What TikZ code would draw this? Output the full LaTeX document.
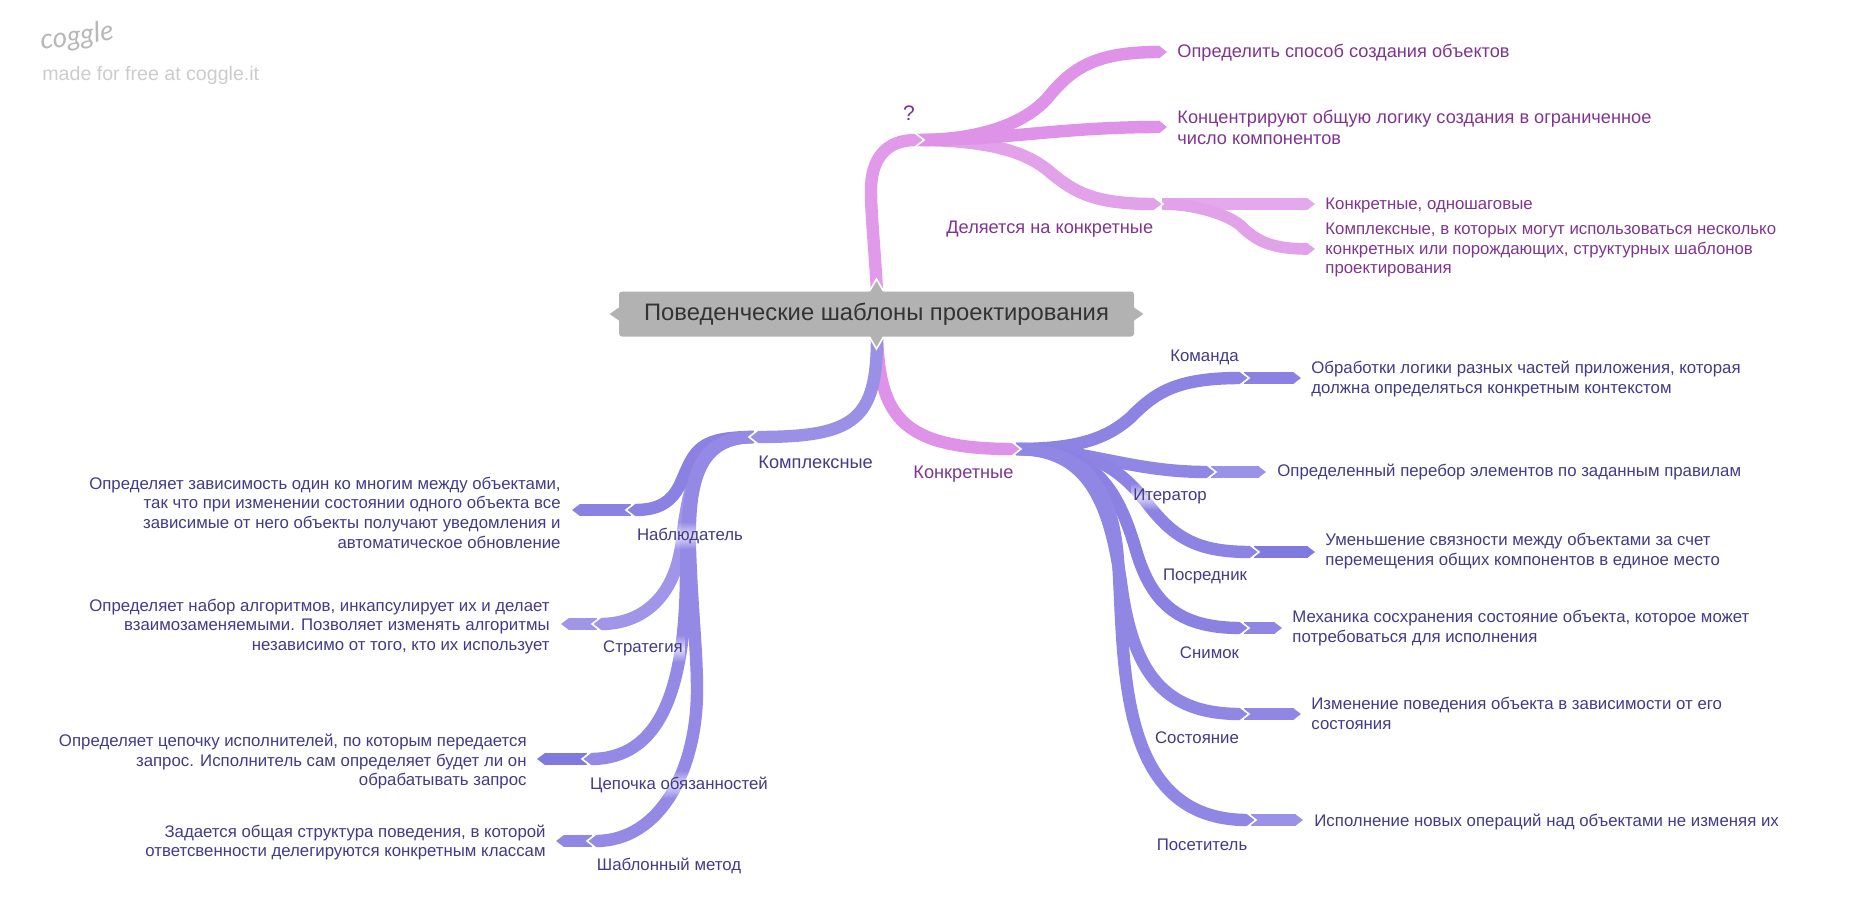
\documentclass[tikz,border=0pt]{standalone}
\usepackage{fontspec}
\setmainfont{Liberation Sans}
\newfontfamily\logofont{Lato}
\usetikzlibrary{arrows.meta,fadings}
\definecolor{pkA}{HTML}{E09AE9}
\definecolor{pkB}{HTML}{DE92E8}
\definecolor{pkC}{HTML}{E1A2EA}
\definecolor{pkD}{HTML}{E4A9EC}
\definecolor{blA}{HTML}{9A90E5}
\definecolor{blB}{HTML}{8A81E2}
\definecolor{blC}{HTML}{8F87E3}
\definecolor{blD}{HTML}{9A92E6}
\definecolor{blE}{HTML}{807ADF}
\definecolor{blF}{HTML}{8C83E3}
\definecolor{blG}{HTML}{9489E4}
\definecolor{blH}{HTML}{A095E8}
\definecolor{txP}{HTML}{7F3590}
\definecolor{txB}{HTML}{433A88}
\definecolor{rootc}{HTML}{B2B2B2}
\tikzfading[name=halo, top color=transparent!100, bottom color=transparent!100, middle color=transparent!30]
\newcommand\fsz[2]{\fontsize{#1pt}{#2pt}\selectfont}
\newcommand\chevR[1]{\draw[chevron] ([shift={(-8,-7)}]#1) -- ([shift={(1,0)}]#1) -- ([shift={(-8,7)}]#1);}
\newcommand\chevL[1]{\draw[chevron] ([shift={(8,-7)}]#1) -- ([shift={(-1,0)}]#1) -- ([shift={(8,7)}]#1);}
\tikzset{
  x=0.5pt,y=-0.5pt,
  br/.style={line width=6.2pt,-{Triangle[length=4pt,width=6.2pt]}},
  brs/.style={line width=5.8pt,-{Triangle[length=4pt,width=5.8pt]}},
  chevron/.style={draw=white,line width=0.8pt,line join=miter},
  pbig/.style={text=txP,font=\fsz{9.1}{10.6},align=left,anchor=west,inner sep=0pt,yshift=-0.75pt},
  psmall/.style={text=txP,font=\fsz{8.4}{9.75},align=left,anchor=west,inner sep=0pt,yshift=-1pt},
  bdesc/.style={text=txB,font=\fsz{8.4}{10},align=left,anchor=west,inner sep=0pt,yshift=-0.75pt},
  bdescr/.style={text=txB,font=\fsz{8.4}{9.85},align=right,anchor=east,inner sep=0pt,yshift=-0.75pt},
  lab/.style={text=txB,font=\fsz{8.4}{10},anchor=center,inner xsep=1pt,inner ysep=3pt,yshift=-1.25pt},
  haloed/.style={fill=white,path fading=halo},
}
\begin{document}
\begin{tikzpicture}
\useasboundingbox (0,0) rectangle (1852,907);
% coordinates
\coordinate (q) at (923,140);
\coordinate (q1) at (1167,52);
\coordinate (q2) at (1167,127);
\coordinate (q3) at (1162,204);
\coordinate (q31) at (1315,204);
\coordinate (q32) at (1315,249);
\coordinate (kon) at (1020,449);
\coordinate (kom) at (750,437);
\coordinate (c1) at (1248,378);
\coordinate (c1e) at (1301,378);
\coordinate (c2) at (1215,472);
\coordinate (c2e) at (1266,472);
\coordinate (c3) at (1258,552);
\coordinate (c3e) at (1315,552);
\coordinate (c4) at (1248,628);
\coordinate (c4e) at (1282,628);
\coordinate (c5) at (1248,714);
\coordinate (c5e) at (1301,714);
\coordinate (c6) at (1255,820);
\coordinate (c6e) at (1303,820);
\coordinate (k1) at (627,510);
\coordinate (k1e) at (572,510);
\coordinate (k2) at (593,624);
\coordinate (k2e) at (561,624);
\coordinate (k3) at (583,759);
\coordinate (k3e) at (537,759);
\coordinate (k4) at (588,841);
\coordinate (k4e) at (556,841);
\node[minimum width=257.5pt,minimum height=22.5pt,inner sep=0pt] (root) at (877,314) {};
% pink top
\draw[brs,pkD] (q3) -- (q31);
\draw[brs,pkC] (q3) .. controls +(30,0) and (1225,213) .. (1240,225) .. controls (1255,240) and (1270,249) .. (q32);
\draw[br,pkC] ([xshift=-3pt]q) .. controls +(80,0) and (1030,155) .. (1050,172) .. controls (1075,193) and (1095,204) .. (q3);
\draw[br,pkB] ([xshift=-3pt]q) .. controls +(90,0) and (1060,127) .. (q2);
\draw[br,pkB] ([xshift=-3pt]q) .. controls +(70,0) and (1030,120) .. (1050,95) .. controls (1075,65) and (1100,52) .. (q1);
\draw[br,pkA] (root.north) .. controls (874,240) and (871,215) .. (871,190) .. controls (871,160) and (885,140) .. (q);
\chevR{q}\chevR{q3}
% right side
\draw[brs,blB] ([xshift=-2pt]c1) -- (c1e);
\draw[brs,blD] ([xshift=-2pt]c2) -- (c2e);
\draw[brs,blE] ([xshift=-2pt]c3) -- (c3e);
\draw[brs,blC] ([xshift=-2pt]c4) -- (c4e);
\draw[brs,blC] ([xshift=-2pt]c5) -- (c5e);
\draw[brs,blD] ([xshift=-2pt]c6) -- (c6e);
\draw[br,blF] ([xshift=-2pt]kon) .. controls +(58,0) and (1105,440) .. (1130,418) .. controls (1155,393) and (1175,378) .. (c1);
\draw[br,blC] ([xshift=-2pt]kon) .. controls +(72,0) and (1130,472) .. (c2);
\draw[br,blF] ([xshift=-2pt]kon) .. controls +(58,0) and (1110,455) .. (1147,503) .. controls (1175,540) and (1200,552) .. (c3);
\draw[br,blB] ([xshift=-2pt]kon) .. controls +(72,0) and (1115,480) .. (1135,547) .. controls (1150,600) and (1175,628) .. (c4);
\draw[br,blC] ([xshift=-2pt]kon) .. controls +(72,0) and (1110,500) .. (1122,590) .. controls (1135,680) and (1170,714) .. (c5);
\draw[br,blC] ([xshift=-2pt]kon) .. controls +(63,0) and (1112,480) .. (1118,560) .. controls (1125,660) and (1115,820) .. (c6);
\chevR{c1}\chevR{c2}\chevR{c3}\chevR{c4}\chevR{c5}\chevR{c6}
% left side
\draw[brs,blB] ([xshift=2pt]k1) -- (k1e);
\draw[brs,blH] ([xshift=2pt]k2) -- (k2e);
\draw[brs,blE] ([xshift=2pt]k3) -- (k3e);
\draw[brs,blC] ([xshift=2pt]k4) -- (k4e);
\draw[br,blH] ([xshift=2pt]kom) .. controls +(-50,0) and (690,470) .. (682,540) .. controls (675,600) and (640,624) .. (k2);
\draw[br,blB] ([xshift=2pt]kom) .. controls +(-55,0) and (695,450) .. (682,480) .. controls (672,505) and (655,510) .. (k1);
\draw[br,blG] ([xshift=2pt]kom) .. controls +(-55,0) and (687,470) .. (686,570) .. controls (686,690) and (660,759) .. (k3);
\draw[br,blG] ([xshift=2pt]kom) .. controls +(-55,0) and (688,480) .. (690,550) .. controls (692,610) and (697,650) .. (697,690) .. controls (697,770) and (660,841) .. (k4);
\chevL{k1}\chevL{k2}\chevL{k3}\chevL{k4}
% root branches
\draw[br,pkB] (root.south) .. controls (880,415) and (900,449) .. (kon);
\draw[br,blA] (root.south) .. controls (877,420) and (855,437) .. (kom);
\chevR{kon}\chevL{kom}
% root
\node[fill=rootc,rounded corners=1.5pt,minimum width=257.5pt,minimum height=22.5pt,inner sep=0pt,text=black!80,font=\fsz{11.9}{14}] (title) at (876.5,314) {\raisebox{-1.1pt}{Поведенческие шаблоны проектирования}};
\fill[rootc] (title.east) ++(-1,-7) -- ++(10,7) -- ++(-10,7) -- cycle;
\fill[rootc] (title.west) ++(1,-7) -- ++(-10,7) -- ++(10,7) -- cycle;
\filldraw[rootc] (title.north) ++(-7,1) -- ++(7,-12) -- ++(7,12) -- cycle;
\draw[chevron] (title.north) ++(-7,0) -- ++(7,-12) -- ++(7,12);
\fill[rootc] (title.south) ++(-7,-1) -- ++(7,12) -- ++(7,-12) -- cycle;
\draw[chevron] (title.south) ++(-7,0) -- ++(7,12) -- ++(7,-12);
% logo
\node[text=black!28,font=\logofont\itshape\fsz{14}{16},inner sep=0pt,anchor=center,rotate=8] (logo) at (77,37) {coggle};
\node[text=black!20,font=\fsz{9.8}{12},inner sep=0pt,anchor=west] (made) at (42,75) {made for free at coggle.it};
% pink labels
\node[pbig] (t1) at (1177,51) {Определить способ создания объектов};
\node[pbig] (t2) at (1177,126) {Концентрируют общую логику создания в ограниченное\\число компонентов};
\node[pbig,anchor=center,font=\fsz{10.5}{12}] (t3) at (909,112) {?};
\node[pbig] (t4) at (946,228) {Деляется на конкретные};
\node[psmall] (t5) at (1325,203) {Конкретные, одношаговые};
\node[psmall] (t6) at (1325,248) {Комплексные, в которых могут использоваться несколько\\конкретных или порождающих, структурных шаблонов\\проектирования};
\node[pbig] (t7) at (913,473) {Конкретные};
% right labels
\node[lab] (r1) at (1204.5,355) {Команда};
\node[bdesc] (d1) at (1311,377) {Обработки логики разных частей приложения, которая\\должна определяться конкретным контекстом};
\node[lab,haloed] (r2) at (1170,494) {Итератор};
\node[bdesc] (d2) at (1277,470) {Определенный перебор элементов по заданным правилам};
\node[lab] (r3) at (1205,574) {Посредник};
\node[bdesc] (d3) at (1325,550) {Уменьшение связности между объектами за счет\\перемещения общих компонентов в единое место};
\node[lab] (r4) at (1209.5,650) {Снимок};
\node[bdesc] (d4) at (1292,627) {Механика сосхранения состояние объекта, которое может\\потребоваться для исполнения};
\node[lab] (r5) at (1197,735.5) {Состояние};
\node[bdesc] (d5) at (1311,712) {Изменение поведения объекта в зависимости от его\\состояния};
\node[lab] (r6) at (1202,842) {Посетитель};
\node[bdesc] (d6) at (1314,820) {Исполнение новых операций над объектами не изменяя их};
% left labels
\node[pbig,text=txB] (t8) at (758,461) {Комплексные};
\node[lab,haloed] (l1) at (690,533) {Наблюдатель};
\node[bdescr] (e1) at (561,511) {Определяет зависимость один ко многим между объектами,\\так что при изменении состоянии одного объекта все\\зависимые от него объекты получают уведомления и\\автоматическое обновление};
\node[lab,haloed] (l2) at (643,646) {Стратегия};
\node[bdescr] (e2) at (550,625) {Определяет набор алгоритмов, инкапсулирует их и делает\\взаимозаменяемыми. Позволяет изменять алгоритмы\\независимо от того, кто их использует};
\node[lab,haloed] (l3) at (679,782) {Цепочка обязанностей};
\node[bdescr] (e3) at (527,760) {Определяет цепочку исполнителей, по которым передается\\запрос. Исполнитель сам определяет будет ли он\\обрабатывать запрос};
\node[lab] (l4) at (669,863) {Шаблонный метод};
\node[bdescr] (e4) at (546,841) {Задается общая структура поведения, в которой\\ответсвенности делегируются конкретным классам};
\end{tikzpicture}
\end{document}
